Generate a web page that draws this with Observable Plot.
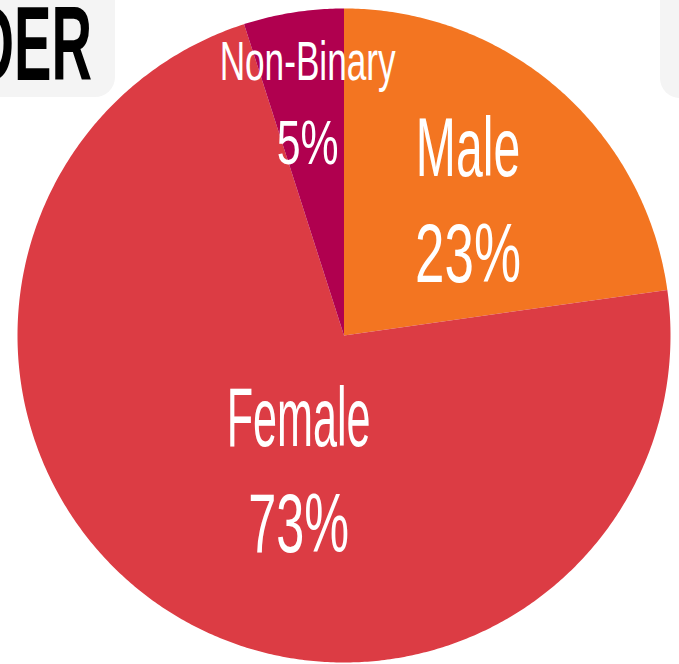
<!DOCTYPE html>
<html>
<head>
<meta charset="utf-8">
<script src="https://cdn.jsdelivr.net/npm/d3@7"></script>
<script src="https://cdn.jsdelivr.net/npm/@observablehq/plot@0.6"></script>
<style>
  html, body { margin: 0; padding: 0; background: #ffffff; overflow: hidden; }
  #wrap { position: relative; width: 679px; height: 664px; overflow: hidden; }
  .box { position: absolute; background: #f4f4f4; border-radius: 20px; }
  #title { position: absolute; left: 0; top: 0; }
  #chart { position: absolute; left: 0; top: 0; }
</style>
</head>
<body>
<div id="wrap">
  <div class="box" style="left:-40px; top:-30px; width:155px; height:127px;"></div>
  <div class="box" style="left:660px; top:-30px; width:80px; height:128px;"></div>
  <svg id="title" width="130" height="100">
    <text transform="translate(92,80) scale(0.53,1)" text-anchor="end"
          font-family="'Liberation Sans Narrow', 'Liberation Sans', sans-serif"
          font-weight="bold" font-size="106" fill="#000000">DER</text>
  </svg>
  <div id="chart"></div>
</div>
<script>
// ---- data ----
const categories = ["Male", "Female", "Non-Binary"];
const shares = [23, 73, 5];
const pctLabels = ["23%", "73%", "5%"];
const colors = ["#f37521", "#dc3c44", "#b0004f"];

// ---- label layout / style (not data) ----
const labelStyle = {
  "Male":       {r: 0.557, nudge: 2,     gap: 53, nameSize: 83, pctSize: 84, nameScale: 0.58, pctScale: 0.63},
  "Female":     {r: 0.441, nudge: -13.7, gap: 53, nameSize: 83, pctSize: 84, nameScale: 0.52, pctScale: 0.60},
  "Non-Binary": {r: 0.719, nudge: 0,     gap: 41, nameSize: 55, pctSize: 63, nameScale: 0.64, pctScale: 0.68}
};
const FONT = "'Liberation Sans Narrow', 'Liberation Sans', sans-serif";

// ---- pie geometry from the data ----
const arcs = d3.pie().sort(null)(shares);
const slicePoints = [];
arcs.forEach((a, i) => {
  const n = Math.max(2, Math.ceil((a.endAngle - a.startAngle) / (Math.PI / 360)));
  slicePoints.push({cat: categories[i], x: 0, y: 0});
  for (let k = 0; k <= n; k++) {
    const t = a.startAngle + (a.endAngle - a.startAngle) * k / n;
    slicePoints.push({cat: categories[i], x: Math.sin(t), y: Math.cos(t)});
  }
  slicePoints.push({cat: categories[i], x: 0, y: 0});
});

const labelData = arcs.map((a, i) => {
  const s = labelStyle[categories[i]];
  const mid = (a.startAngle + a.endAngle) / 2 + s.nudge * Math.PI / 180;
  return {cat: categories[i], name: categories[i], pct: pctLabels[i],
          x: s.r * Math.sin(mid), y: s.r * Math.cos(mid)};
});

const textMarks = [];
const textScales = [];
labelData.forEach((d, i) => {
  const s = labelStyle[d.cat];
  textMarks.push(Plot.text([d], {x: "x", y: "y", text: "name", dy: -s.gap,
    fontSize: s.nameSize, fill: "white", fontFamily: FONT, lineAnchor: "middle",
    textAnchor: "middle"}));
  textScales.push(s.nameScale);
  textMarks.push(Plot.text([d], {x: "x", y: "y", text: "pct", dy: s.gap,
    fontSize: s.pctSize, fill: "white", fontFamily: FONT, lineAnchor: "middle",
    textAnchor: "middle"}));
  textScales.push(s.pctScale);
});

const chart = Plot.plot({
  width: 679,
  height: 664,
  marginLeft: 17,
  marginRight: 9,
  marginTop: 8,
  marginBottom: 2,
  style: {background: "transparent", overflow: "visible"},
  x: {domain: [-1, 1], axis: null},
  y: {domain: [-1, 1], axis: null},
  color: {domain: categories, range: colors},
  marks: [
    Plot.line(slicePoints, {x: "x", y: "y", z: "cat", fill: "cat", stroke: "none", curve: "linear"}),
    ...textMarks
  ]
});
document.getElementById("chart").appendChild(chart);

// horizontally condense label glyphs around their anchors
const textGroups = chart.querySelectorAll('g[aria-label="text"]');
textGroups.forEach((g, gi) => {
  const sc = textScales[gi];
  g.querySelectorAll("text").forEach((t) => {
    const tr = t.getAttribute("transform");
    if (tr) {
      t.setAttribute("transform", tr + ` scale(${sc},1)`);
    } else {
      const x = +(t.getAttribute("x") || 0), y = +(t.getAttribute("y") || 0);
      t.removeAttribute("x"); t.removeAttribute("y");
      t.setAttribute("transform", `translate(${x},${y}) scale(${sc},1)`);
    }
  });
});
</script>
</body>
</html>
